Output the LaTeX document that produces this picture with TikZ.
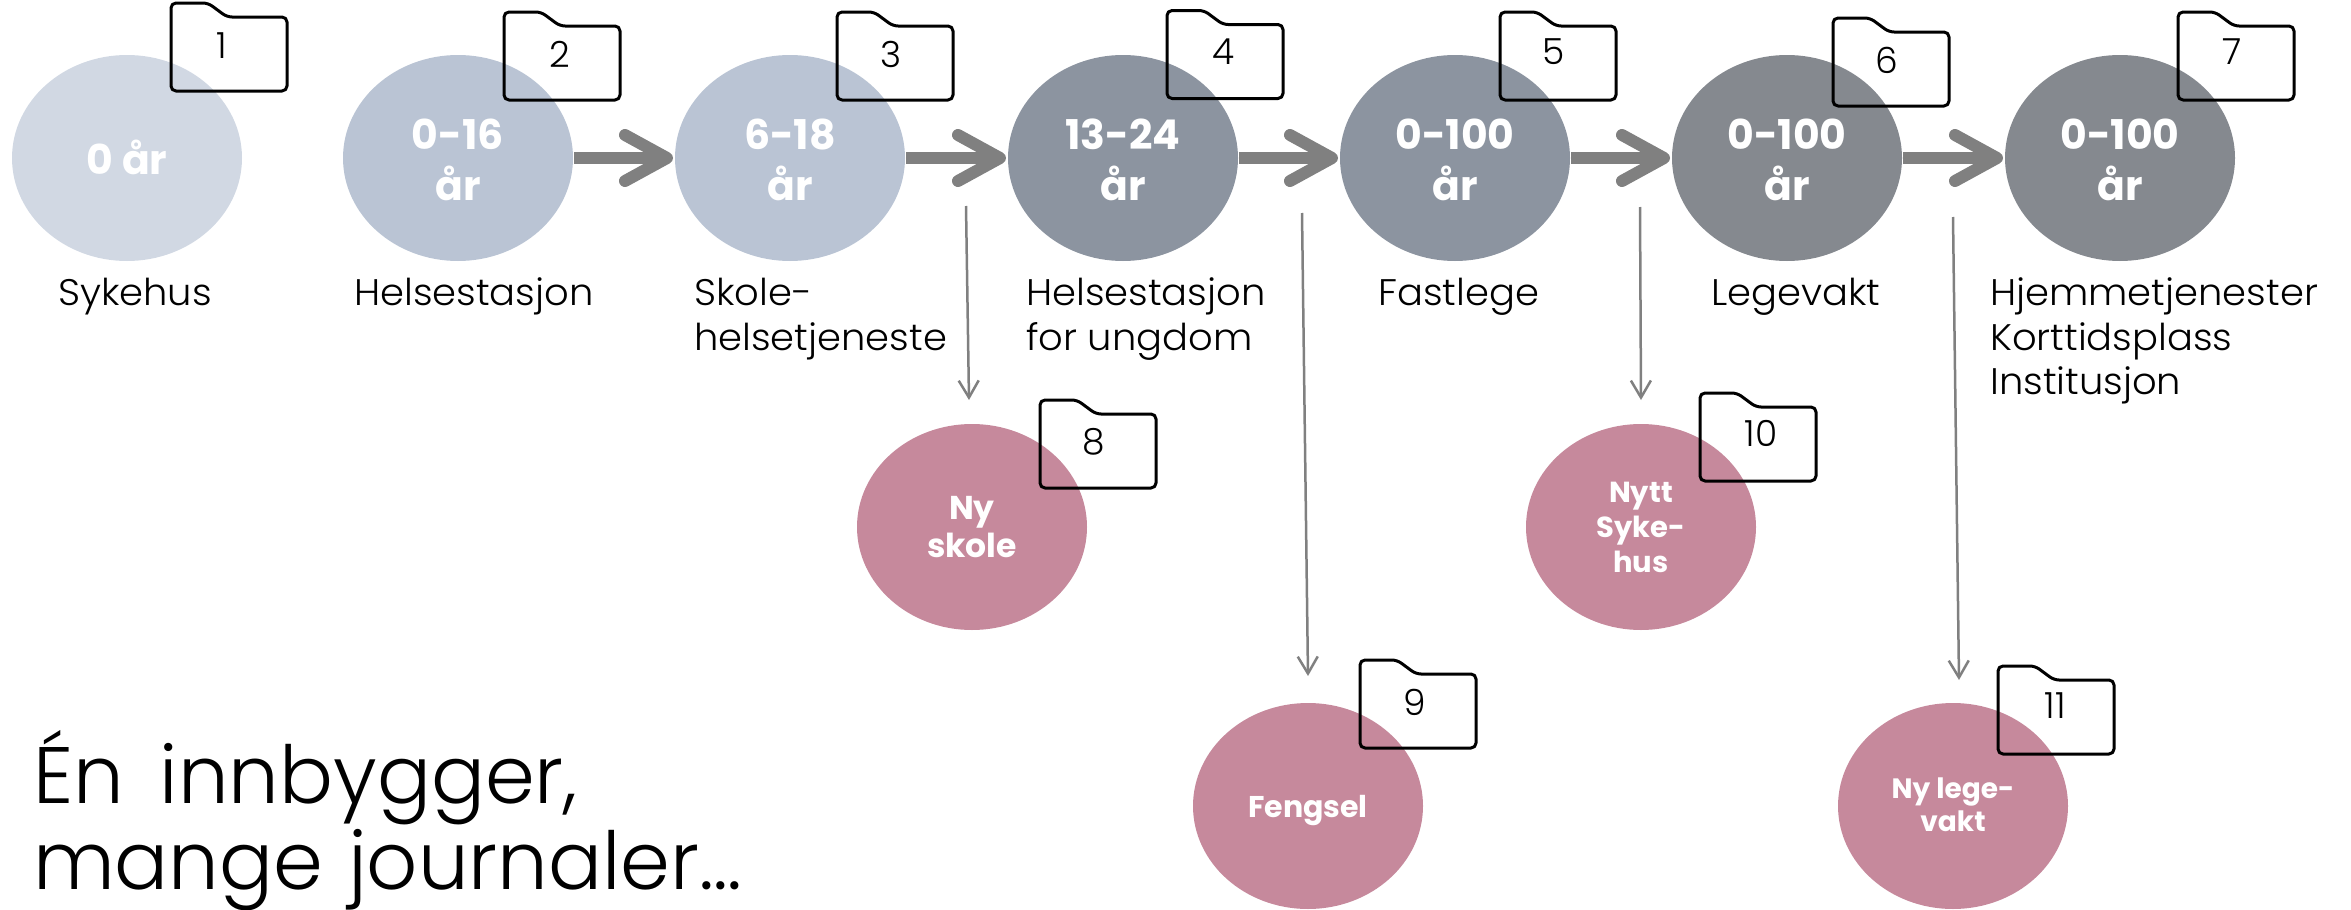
\documentclass[tikz,border=0pt]{standalone}
\usepackage{fontspec}
\usetikzlibrary{arrows.meta}
\setmainfont{Poppins Light}
\newfontfamily\labf[FakeStretch=1.04]{Poppins Light}
\newfontfamily\boldf{Poppins Bold}
\definecolor{c1}{HTML}{D1D8E3}
\definecolor{c2}{HTML}{BAC4D4}
\definecolor{c3}{HTML}{8C94A0}
\definecolor{c4}{HTML}{85898F}
\definecolor{pink}{HTML}{C6899C}
\definecolor{arr}{HTML}{808080}
\newcommand{\fsz}[2]{\fontsize{#1pt}{#2pt}\selectfont}
\newcommand{\folder}[5]{%
  \draw[folderline] (#2,#3+88) -- (#2,#3) -- (#2+37,#3) -- (#2+56,#3+14) -- (#2+116,#3+14) -- (#2+116,#3+88) -- cycle;
  \node[numtext] (#1) at (#4,#5) {#1};}
\tikzset{
  x=1pt,y=-1pt,
  folderline/.style={draw=black,line width=3pt,rounded corners=5pt,line join=round},
  numtext/.style={font=\fsz{36}{44},inner sep=0pt,text=black},
  lab/.style={font=\labf\fsz{37}{44.5},anchor=base west,align=left,inner sep=0pt,text=black},
  thick arrow/.style={draw=arr,line width=12pt,shorten <=1pt,shorten >=2pt,-{Straight Barb[round,length=42pt,width=46pt,line width=12pt]}},
  thin arrow/.style={draw=arr,line width=2.5pt,-{Straight Barb[length=17pt,width=20pt,line width=2.5pt]}},
}
\begin{document}
\begin{tikzpicture}
\useasboundingbox (0,0) rectangle (2351,910);
\foreach \n/\cx/\tcy/\col/\t in {a/127/157/c1/0 år,b/458/159.5/c2/0-16\\år,c/790/159.5/c2/6-18\\år,d/1123/159.5/c3/13-24\\år,e/1455/159.5/c3/0-100\\år,f/1787/159.5/c4/0-100\\år,g/2120/159.5/c4/0-100\\år}{
  \fill[\col] (\cx,158) ellipse [x radius=115,y radius=-103];
  \coordinate (\n) at (\cx,158);
  \coordinate (\n w) at (\cx-115,158);
  \coordinate (\n e) at (\cx+115,158);
  \node[align=center,text=white,font=\boldf\fsz{41}{51},inner sep=0pt] (\n t) at (\cx,\tcy) {\t};
}
\foreach \n/\cx/\cy/\tcy/\t/\s/\l in {h/972/527/527/Ny\\skole/33/37.5,i/1308/806/811/Fengsel/30/35,j/1641/527/527/Nytt\\Syke-\\hus/29/35,k/1953/806/805/Ny lege-\\vakt/28/33}{
  \fill[pink] (\cx,\cy) ellipse [x radius=115,y radius=-103];
  \coordinate (\n) at (\cx,\cy);
  \node[align=center,text=white,font=\boldf\fsz{\s}{\l},inner sep=0pt] (\n t) at (\cx,\tcy) {\t};
}
\foreach \u/\v in {b/c,c/d,d/e,e/f,f/g}{
  \draw[thick arrow] (\u e) -- (\v w);
}
\coordinate (s8) at (966,206); \coordinate (t8) at (969,400);
\coordinate (s9) at (1302,213); \coordinate (t9) at (1308,676);
\coordinate (s10) at (1640,207); \coordinate (t10) at (1641,400);
\coordinate (s11) at (1953,217); \coordinate (t11) at (1959,680);
\foreach \k in {8,9,10,11}{\draw[thin arrow] (s\k) -- (t\k);}
\folder{1}{171}{3}{222}{46}
\folder{2}{504}{12}{560}{54}
\folder{3}{837}{12}{891}{54}
\folder{4}{1167}{10.5}{1224}{52}
\folder{5}{1500}{12}{1554}{52}
\folder{6}{1833}{18}{1887}{60}
\folder{7}{2178}{12}{2232}{52}
\folder{8}{1040}{400}{1094}{442}
\folder{9}{1360}{660}{1415}{702}
\folder{10}{1700}{393}{1761}{433}
\folder{11}{1998}{666}{2055}{706}
\node[lab] (l1) at (58,305.5) {Sykehus};
\node[lab] (l2) at (354,305.5) {Helsestasjon};
\node[lab] (l3) at (694,350) {Skole-\\helsetjeneste};
\node[lab] (l4) at (1026,350) {Helsestasjon\\for ungdom};
\node[lab] (l5) at (1378,305.5) {Fastlege};
\node[lab] (l6) at (1711,305.5) {Legevakt};
\node[lab] (l7) at (1990,394.5) {Hjemmetjenester\\Korttidsplass\\Institusjon};
\node[anchor=base west,align=left,inner sep=0pt,font=\fsz{80}{86}] (title) at (33,889) {Én\hspace{14pt} innbygger,\\mange\hspace{3pt} journaler…};
\end{tikzpicture}
\end{document}
